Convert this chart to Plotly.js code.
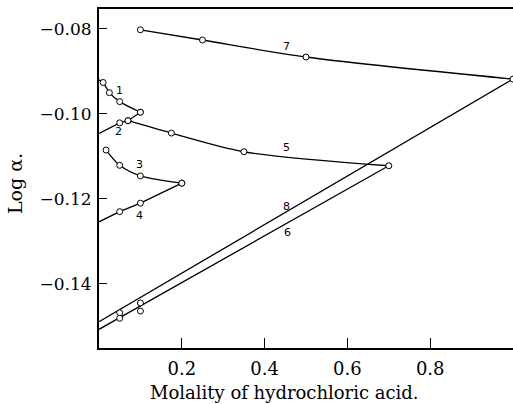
<!DOCTYPE html>
<html>
<head>
<meta charset="utf-8">
<script src="https://cdn.plot.ly/plotly-3.0.1.min.js"></script>
<style>html,body{margin:0;padding:0;background:#fff;}#chart{width:513px;height:404px;}</style>
</head>
<body>
<div id="chart"></div>
<script>
// Measured points (molality, log alpha)
var c1x = [0.01, 0.025, 0.05, 0.1];
var c1y = [-0.0926, -0.0950, -0.0971, -0.0996];
var c1start = -0.0920;

var c2x = [0.05, 0.07, 0.1];
var c2y = [-0.1021, -0.1016, -0.0996];
var c2start = -0.1046;

var c3x = [0.017, 0.05, 0.1, 0.2];
var c3y = [-0.1085, -0.1121, -0.1146, -0.1163];

var c4x = [0.05, 0.1, 0.2];
var c4y = [-0.1230, -0.1210, -0.1163];
var c4start = -0.1254;

var c5x = [0.07, 0.175, 0.35, 0.7];
var c5y = [-0.1016, -0.1045, -0.1089, -0.1122];

var c7x = [0.1, 0.25, 0.5, 1.0];
var c7y = [-0.0802, -0.0826, -0.0866, -0.0918];

// straight lines 8 and 6: intercept at m=0 and end point
var l8x = [0, 1.0];
var l8y = [-0.1489, -0.0918];
var m8x = [0.05, 0.1];
var m8y = [-0.1468, -0.1445];

var l6x = [0, 0.7];
var l6y = [-0.1507, -0.1122];
var m6x = [0.05, 0.1];
var m6y = [-0.1481, -0.1464];

var xTicks = [0.2, 0.4, 0.6, 0.8];
var yTicks = [-0.08, -0.10, -0.12, -0.14];

var curveLabels = ['7', '1', '2', '5', '3', '4', '8', '6'];
var labelX = [0.453, 0.049, 0.048, 0.453, 0.098, 0.098, 0.453, 0.455];
var labelY = [-0.0842, -0.0944, -0.1042, -0.1080, -0.1120, -0.1238, -0.1219, -0.1280];

var lineStyle = {color: '#000', width: 1.3};
function lineTrace(x, y, spline) {
  return {x: x, y: y, mode: 'lines', type: 'scatter', hoverinfo: 'skip',
    line: Object.assign({}, lineStyle, spline ? {shape: 'spline', smoothing: 0.8} : {})};
}
function markTrace(x, y) {
  return {x: x, y: y, mode: 'markers', type: 'scatter', hoverinfo: 'skip',
    marker: {symbol: 'circle', size: 6, color: '#fff', line: {color: '#000', width: 1}}};
}

var data = [
  lineTrace([0].concat(c1x), [c1start].concat(c1y), true),
  lineTrace([0].concat(c2x), [c2start].concat(c2y), false),
  lineTrace(c3x, c3y, true),
  lineTrace([0].concat(c4x), [c4start].concat(c4y), false),
  lineTrace(c5x, c5y, true),
  lineTrace(c7x, c7y, true),
  lineTrace(l8x, l8y, false),
  lineTrace(l6x, l6y, false),
  markTrace(c1x, c1y),
  markTrace(c2x, c2y),
  markTrace(c3x, c3y),
  markTrace(c4x, c4y),
  markTrace(c5x, c5y),
  markTrace(c7x, c7y),
  markTrace(m8x, m8y),
  markTrace(m6x, m6y)
];

var pw = 513 - 99, ph = 404 - 9 - 56;
var annotations = curveLabels.map(function (t, i) {
  return {x: labelX[i], y: labelY[i], xref: 'x', yref: 'y', text: t, showarrow: false,
    font: {family: 'DejaVu Sans', size: 11, color: '#000'}};
});
annotations.push({xref: 'paper', yref: 'paper', x: (284 - 99) / pw, y: (404 - 56 - 392) / ph,
  xanchor: 'center', yanchor: 'middle', text: 'Molality of hydrochloric acid.',
  showarrow: false, font: {family: 'DejaVu Serif', size: 18, color: '#000'}});
annotations.push({xref: 'paper', yref: 'paper', x: (15 - 99) / pw, y: (404 - 56 - 184) / ph,
  xanchor: 'center', yanchor: 'middle', text: 'Log α.', showarrow: false, textangle: -90,
  font: {family: 'DejaVu Serif', size: 19, color: '#000'}});

var layout = {
  width: 513, height: 404,
  margin: {l: 99, r: 0, t: 9, b: 56},
  paper_bgcolor: '#fff', plot_bgcolor: '#fff',
  showlegend: false,
  font: {family: 'DejaVu Serif', size: 16, color: '#000'},
  xaxis: {range: [0, 1.0], tickvals: xTicks, ticktext: xTicks.map(function(v){return v.toFixed(1);}),
    ticks: 'inside', ticklen: 10, tickwidth: 1, tickcolor: '#000', ticklabelstandoff: 3,
    showline: true, linewidth: 2, linecolor: '#000', mirror: true,
    showgrid: false, zeroline: false, tickfont: {family: 'DejaVu Serif', size: 18}},
  yaxis: {range: [-0.1551, -0.0753], tickvals: yTicks,
    ticktext: yTicks.map(function(v){return '\u2212' + Math.abs(v).toFixed(2);}),
    ticks: 'inside', ticklen: 8, tickwidth: 1, tickcolor: '#000', ticklabelstandoff: 2,
    showline: true, linewidth: 2, linecolor: '#000', mirror: false,
    showgrid: false, zeroline: false, tickfont: {family: 'DejaVu Serif', size: 17}},
  annotations: annotations
};

Plotly.newPlot('chart', data, layout, {staticPlot: true, displayModeBar: false});
</script>
</body>
</html>
